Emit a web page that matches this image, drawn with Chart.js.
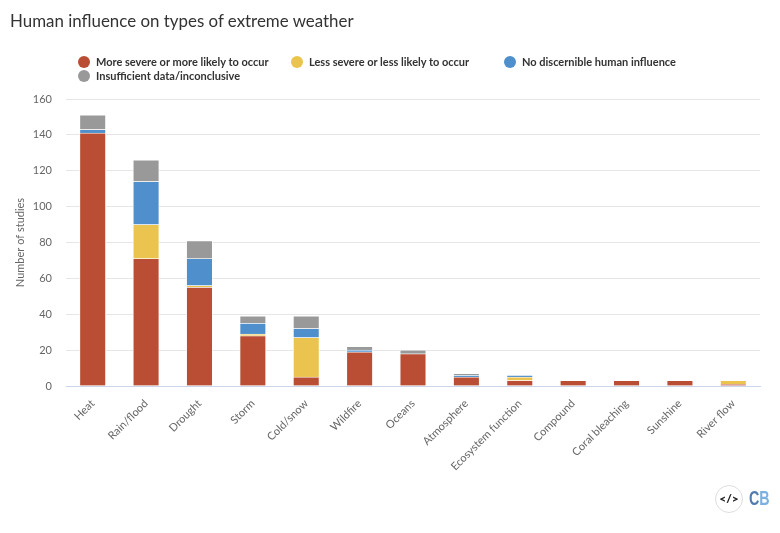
<!DOCTYPE html>
<html>
<head>
<meta charset="utf-8">
<title>Human influence on types of extreme weather</title>
<script src="https://cdn.jsdelivr.net/npm/chart.js@4"></script>
<style>
  html, body { margin: 0; padding: 0; background: #fff; }
  body { width: 780px; height: 533px; position: relative; overflow: hidden; font-family: Lato, sans-serif; }
  #chart { position: absolute; left: 0; top: 0; }
  #title { position: absolute; left: 10px; top: 9px; font-size: 16.9px; color: #333; line-height: 24px; white-space: nowrap; }
  .legend-item { position: absolute; font-size: 11px; font-weight: 700; color: #333; line-height: 14px; white-space: nowrap; }
  .legend-item i { position: absolute; left: -18px; top: 1px; width: 12px; height: 12px; border-radius: 50%; }
  #embed { position: absolute; left: 715px; top: 485px; width: 26px; height: 26px; border: 1px solid #ddd; border-radius: 50%; text-align: center; line-height: 26px; font-size: 12px; font-weight: 900; color: #222; }
  #logo { position: absolute; left: 749px; top: 485px; font-family: "Liberation Sans", sans-serif; font-size: 21px; font-weight: 700; line-height: 26px; transform: scaleX(0.68); transform-origin: left center; }
</style>
</head>
<body>
<canvas id="chart" width="780" height="533"></canvas>
<div id="title">Human influence on types of extreme weather</div>
<div id="legend"></div>
<div id="embed">&lt;/&gt;</div>
<div id="logo"><span style="color:#4f7cac">C</span><span style="color:#7cb0e0">B</span></div>
<script>
// Studies per type of extreme weather
const labels = ['Heat', 'Rain/flood', 'Drought', 'Storm', 'Cold/snow', 'Wildfire', 'Oceans', 'Atmosphere',
  'Ecosystem function', 'Compound', 'Coral bleaching', 'Sunshine', 'River flow'];

const series = [
  { label: 'More severe or more likely to occur', color: '#b94e34', left: 96, top: 55,
    data: [141, 71, 55, 28, 5, 19, 18, 5, 3, 3, 3, 3, 1] },
  { label: 'Less severe or less likely to occur', color: '#ebc44f', left: 309, top: 55,
    data: [0, 19, 1, 1, 22, 0, 0, 0, 2, 0, 0, 0, 2] },
  { label: 'No discernible human influence', color: '#4f8fcb', left: 522, top: 55,
    data: [2, 24, 15, 6, 5, 1, 0, 1, 1, 0, 0, 0, 0] },
  { label: 'Insufficient data/inconclusive', color: '#999999', left: 96, top: 69,
    data: [8, 12, 10, 4, 7, 2, 2, 1, 0, 0, 0, 0, 0] }
];

// Legend sits in fixed columns, so build it by hand
const legendEl = document.getElementById('legend');
series.forEach(s => {
  const item = document.createElement('div');
  item.className = 'legend-item';
  item.style.left = s.left + 'px';
  item.style.top = s.top + 'px';
  item.textContent = s.label;
  const dot = document.createElement('i');
  dot.style.background = s.color;
  item.appendChild(dot);
  legendEl.appendChild(item);
});

const tickFont = { family: 'Lato, sans-serif', size: 11 };

new Chart(document.getElementById('chart').getContext('2d'), {
  type: 'bar',
  data: {
    labels: labels,
    datasets: series.map(s => ({
      label: s.label,
      data: s.data,
      backgroundColor: s.color,
      borderColor: '#ffffff',
      borderWidth: 0.8,
      barThickness: 26
    }))
  },
  options: {
    responsive: false,
    animation: false,
    layout: { padding: { left: 14, right: 20, top: 99, bottom: 0 } },
    plugins: { legend: { display: false }, tooltip: { enabled: false } },
    scales: {
      x: {
        stacked: true,
        afterFit: axis => { axis.height = 147; },
        grid: { display: false },
        border: { color: '#ccd6eb' },
        ticks: { color: '#666', font: tickFont, minRotation: 45, maxRotation: 45, autoSkip: false, padding: 3 }
      },
      y: {
        stacked: true,
        min: 0,
        max: 160,
        afterFit: axis => { axis.width = 52; },
        grid: { color: '#e6e6e6', drawTicks: false },
        border: { display: false },
        ticks: { stepSize: 20, color: '#666', font: tickFont, padding: 14 },
        title: { display: true, text: 'Number of studies', color: '#666', font: tickFont, padding: 0 }
      }
    }
  }
});
</script>
</body>
</html>
